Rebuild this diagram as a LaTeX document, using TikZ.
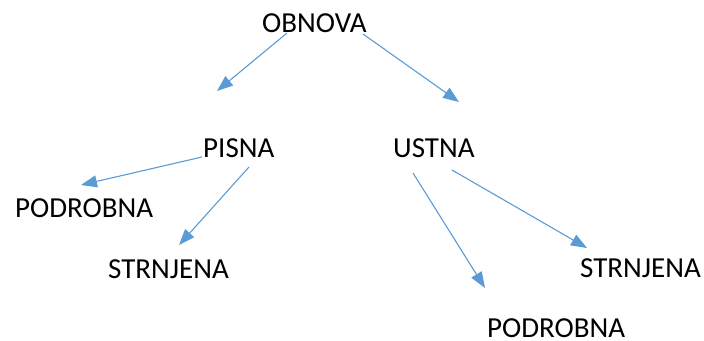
\documentclass[tikz,border=0pt]{standalone}
\usepackage{fontspec}
\setmainfont{Carlito}
\usetikzlibrary{arrows.meta}
\definecolor{arrblue}{HTML}{5B9BD5}

\begin{document}
\begin{tikzpicture}[x=1pt,y=-1pt,
word/.style={inner sep=0pt,anchor=base west,font=\fontsize{29}{35}\selectfont},
arr/.style={draw=arrblue,line width=1.1pt,-{Triangle[length=16pt,width=12pt]},arrblue}]
\useasboundingbox (0,0) rectangle (704,340);
% levels of the tree
\node (obnova) [word] at (262,32) {OBNOVA};
\node (pisna) [word] at (203,157) {PISNA};
\node (ustna) [word] at (393,157) {USTNA};
\node (podrobnaL) [word] at (15,217) {PODROBNA};
\node (strnjenaL) [word] at (108,278) {STRNJENA};
\node (strnjenaR) [word] at (580,277) {STRNJENA};
\node (podrobnaR) [word] at (487,337) {PODROBNA};
% arrow tips
\coordinate (tipA) at (217,91);
\coordinate (tipB) at (459,102);
\coordinate (tipC) at (81,185);
\coordinate (tipD) at (179,245);
\coordinate (tipE) at (485,288);
\coordinate (tipF) at (587,248);
\draw [arr] ([shift={(25,1)}]obnova.base west) -- (tipA);
\draw [arr] ([shift={(101,2)}]obnova.base west) -- (tipB);
\draw [arr] ([shift={(-1,0)}]pisna.base west) -- (tipC);
\draw [arr] ([shift={(46,10)}]pisna.base west) -- (tipD);
\draw [arr] ([shift={(20,16)}]ustna.base west) -- (tipE);
\draw [arr] ([shift={(59,13)}]ustna.base west) -- (tipF);
\end{tikzpicture}
\end{document}
